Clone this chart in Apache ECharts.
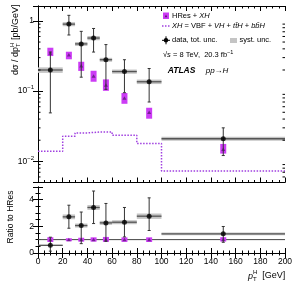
<!DOCTYPE html>
<html><head><meta charset="utf-8">
<script src="https://cdn.jsdelivr.net/npm/echarts@6/dist/echarts.min.js"></script>
<style>html,body{margin:0;padding:0;background:#fff}#c{width:294px;height:286px}</style>
</head><body><div id="c"></div>
<script>
// ---- data ----
const binLo  = [0, 20, 30, 40, 50, 60, 80, 100];
const binHi  = [20, 30, 40, 50, 60, 80, 100, 200];
const binCtr = [10, 25, 35, 45, 55, 70, 90, 150];
const dataVal = [0.20, 0.90, 0.47, 0.57, 0.28, 0.19, 0.136, 0.021];
const dataUp  = [0.36, 1.20, 0.71, 0.78, 0.46, 0.28, 0.21, 0.030];
const dataDn  = [0.049, 0.63, 0.158, 0.36, 0.106, 0.095, 0.070, 0.0121];
const systLo  = [0.182, 0.84, 0.44, 0.53, 0.262, 0.177, 0.126, 0.0196];
const systHi  = [0.218, 0.96, 0.50, 0.61, 0.298, 0.203, 0.146, 0.0224];
const hresVal = [0.35, 0.33, 0.23, 0.164, 0.122, 0.080, 0.050, 0.0149];
const hresLo  = [0.316, 0.284, 0.194, 0.136, 0.101, 0.066, 0.0405, 0.0129];
const hresHi  = [0.415, 0.364, 0.262, 0.195, 0.147, 0.094, 0.058, 0.0177];
const xhEdges = [0, 20, 30, 40, 50, 60, 80, 100, 200];
const xhVal   = [0.0139, 0.0228, 0.0254, 0.0262, 0.0262, 0.0236, 0.018, 0.0073];
const ratioVal = [0.57, 2.70, 2.05, 3.40, 2.25, 2.30, 2.75, 1.43];
const ratioUp  = [1.18, 3.57, 3.06, 4.63, 3.70, 3.40, 4.12, 1.98];
const ratioDn  = [0.14, 1.85, 0.70, 2.20, 0.87, 1.20, 1.68, 0.80];
const ratioSystLo = [0.52, 2.52, 1.90, 3.22, 2.10, 2.15, 2.55, 1.33];
const ratioSystHi = [0.62, 2.88, 2.20, 3.58, 2.40, 2.45, 2.95, 1.53];
const hresRatioVal = [1, 1, 1, 1, 1, 1, 1, 1];
const hresRatioLo  = [0.82, 0.88, 0.85, 0.85, 0.83, 0.83, 0.82, 0.86];
const hresRatioHi  = [1.18, 1.10, 1.14, 1.17, 1.20, 1.17, 1.17, 1.18];
const unityLine = [[0, 1], [200, 1]];
const logMinorTicks = [0.006,0.007,0.008,0.009,0.02,0.03,0.04,0.05,0.06,0.07,0.08,0.09,0.2,0.3,0.4,0.5,0.6,0.7,0.8,0.9];

// ---- helpers ----
const FF = '"Liberation Sans", Arial, sans-serif';
const MAG = '#cc3cf5';
const TRI = '#5c1a78';
const mctx = document.createElement('canvas').getContext('2d');
function fontStr(p){ return (p.italic?'italic ':'')+(p.bold?'bold ':'')+p.size+'px '+FF; }
function seq(x, y, parts, rotation){
  let cx = 0, prevX = 0; const ch = [];
  parts.forEach(p => {
    const f = fontStr(p); mctx.font = f;
    const w = mctx.measureText(p.t).width;
    const px = p.stack ? prevX : cx;
    ch.push({type:'text', x:px, y:(p.dy||0), style:{text:p.t, font:f, fill:p.color||'#000', verticalAlign:'middle', align:'left'}});
    if (p.stack) cx = Math.max(cx, px+w); else { prevX = px; cx = px + w; }
  });
  return {type:'group', x:x, y:y, rotation:rotation||0, children:ch};
}
function renderErr(params, api){
  const c=api.value(0), lo=api.value(1), hi=api.value(2), v=api.value(3), dn=api.value(4), up=api.value(5);
  const pUp=api.coord([c,up]), pDn=api.coord([c,dn]), pL=api.coord([lo,v]), pR=api.coord([hi,v]);
  const st={stroke:'#333', lineWidth:1};
  return {type:'group', children:[
    {type:'line', shape:{x1:pL[0],y1:pL[1],x2:pR[0],y2:pR[1]}, style:{stroke:'#555', lineWidth:1.3}},
    {type:'line', shape:{x1:pUp[0],y1:pUp[1],x2:pDn[0],y2:pDn[1]}, style:st},
    {type:'line', shape:{x1:pUp[0]-1.5,y1:pUp[1],x2:pUp[0]+1.5,y2:pUp[1]}, style:st},
    {type:'line', shape:{x1:pDn[0]-1.5,y1:pDn[1],x2:pDn[0]+1.5,y2:pDn[1]}, style:st}
  ]};
}
function renderSyst(params, api){
  const p1=api.coord([api.value(0), api.value(3)]), p2=api.coord([api.value(1), api.value(2)]);
  return {type:'rect', shape:{x:p1[0], y:p1[1], width:p2[0]-p1[0], height:p2[1]-p1[1]}, style:{fill:'#c4c4c4'}};
}
function renderBox(params, api){
  const pH=api.coord([api.value(0), api.value(2)]), pL=api.coord([api.value(0), api.value(1)]);
  return {type:'rect', shape:{x:pH[0]-3, y:pH[1], width:6, height:Math.max(pL[1]-pH[1],3)}, style:{fill:MAG}};
}
function renderMinor(params, api){
  const cs=params.coordSys; const p=api.coord([0, api.value(1)]);
  const st={stroke:'#000', lineWidth:1};
  return {type:'group', children:[
    {type:'line', shape:{x1:cs.x, y1:p[1], x2:cs.x+2.5, y2:p[1]}, style:st},
    {type:'line', shape:{x1:cs.x+cs.width-2.5, y1:p[1], x2:cs.x+cs.width, y2:p[1]}, style:st}
  ]};
}
function logFmt(v){
  const l=Math.log10(v), e=Math.round(l);
  if (Math.abs(l-e)>1e-6) return '';
  if (e===0) return '1';
  return '10{s|\u2212'+(-e)+'}';
}

const errTop = binCtr.map((c,i)=>[c, binLo[i], binHi[i], dataVal[i], dataDn[i], dataUp[i]]);
const systTop = binCtr.map((c,i)=>[binLo[i], binHi[i], systLo[i], systHi[i]]);
const boxTop = binCtr.map((c,i)=>[c, hresLo[i], hresHi[i]]);
const errBot = binCtr.map((c,i)=>[c, binLo[i], binHi[i], ratioVal[i], ratioDn[i], ratioUp[i]]);
const systBot = binCtr.map((c,i)=>[binLo[i], binHi[i], ratioSystLo[i], ratioSystHi[i]]);
const boxBot = binCtr.map((c,i)=>[c, hresRatioLo[i], hresRatioHi[i]]);
const xhData = xhEdges.map((e,i)=>[e, xhVal[Math.min(i, xhVal.length-1)]]);

const axLine = {show:true, lineStyle:{color:'#000', width:1}};
function xAx(grid, pos, labels){
  return {type:'value', gridIndex:grid, position:pos, min:0, max:200, interval:20,
    axisLine:axLine, axisTick:{show:true, inside:true, length:5, lineStyle:{color:'#000'}},
    minorTick:{show:true, splitNumber:4, length:2.5, lineStyle:{color:'#000'}},
    splitLine:{show:false}, minorSplitLine:{show:false},
    axisLabel:{show:labels, margin:4, fontSize:8.5, fontFamily:FF, color:'#000'}};
}
const yLogBase = {type:'log', gridIndex:0, min:0.005, max:1.63, logBase:10,
  axisLine:axLine, axisTick:{show:true, inside:true, length:5, lineStyle:{color:'#000'}},
  splitLine:{show:false}};
const yRatBase = {type:'value', gridIndex:1, min:0, max:4.93, interval:2,
  axisLine:axLine, axisTick:{show:true, inside:true, length:5, lineStyle:{color:'#000'}},
  minorTick:{show:true, splitNumber:4, length:2.5, lineStyle:{color:'#000'}},
  splitLine:{show:false}};

const LS = 7.5;
const option = {
  animation:false,
  grid:[
    {left:38, top:6, width:247, height:176.5, outerBoundsMode:'none', containLabel:false},
    {left:38, top:187, width:247, height:66, outerBoundsMode:'none', containLabel:false}
  ],
  xAxis:[xAx(0,'bottom',false), xAx(0,'top',false), xAx(1,'bottom',true), xAx(1,'top',false)],
  yAxis:[
    Object.assign({}, yLogBase, {position:'left', axisLabel:{show:true, margin:4, fontSize:8.5, fontFamily:FF, color:'#000', showMinLabel:false, showMaxLabel:false, formatter:logFmt, rich:{s:{fontSize:6, fontFamily:FF, color:'#000', padding:[0,0,7,0]}}}}),
    Object.assign({}, yLogBase, {position:'right', axisLabel:{show:false}}),
    Object.assign({}, yRatBase, {position:'left', axisLabel:{show:true, margin:4, fontSize:8.5, fontFamily:FF, color:'#000', showMaxLabel:false}}),
    Object.assign({}, yRatBase, {position:'right', axisLabel:{show:false}})
  ],
  series:[
    {type:'custom', xAxisIndex:0, yAxisIndex:0, renderItem:renderSyst, data:systTop, encode:{x:[0,1], y:[2,3]}, z:1},
    {type:'line', xAxisIndex:0, yAxisIndex:0, step:'end', data:xhData, symbol:'none', lineStyle:{color:'#a040e0', width:1.5, type:[1.5,1.5]}, z:2},
    {type:'custom', xAxisIndex:0, yAxisIndex:0, renderItem:renderBox, data:boxTop, encode:{x:0, y:[1,2]}, z:3},
    {type:'scatter', xAxisIndex:0, yAxisIndex:0, data:binCtr.map((c,i)=>[c, hresVal[i]]), symbol:'triangle', symbolSize:[4,3.5], itemStyle:{color:TRI}, z:4},
    {type:'custom', xAxisIndex:0, yAxisIndex:0, renderItem:renderErr, data:errTop, encode:{x:[0,1,2], y:[3,4,5]}, z:5},
    {type:'scatter', xAxisIndex:0, yAxisIndex:0, data:binCtr.map((c,i)=>[c, dataVal[i]]), symbol:'circle', symbolSize:5, itemStyle:{color:'#000'}, z:6},
    {type:'custom', xAxisIndex:0, yAxisIndex:0, renderItem:renderMinor, data:logMinorTicks.map(v=>[0,v]), encode:{x:0, y:1}, z:7, silent:true},

    {type:'line', xAxisIndex:2, yAxisIndex:2, data:unityLine, symbol:'none', lineStyle:{color:'#444', width:1}, z:2},
    {type:'custom', xAxisIndex:2, yAxisIndex:2, renderItem:renderSyst, data:systBot, encode:{x:[0,1], y:[2,3]}, z:1},
    {type:'custom', xAxisIndex:2, yAxisIndex:2, renderItem:renderBox, data:boxBot, encode:{x:0, y:[1,2]}, z:3},
    {type:'scatter', xAxisIndex:2, yAxisIndex:2, data:binCtr.map((c,i)=>[c, hresRatioVal[i]]), symbol:'triangle', symbolSize:[4,3.5], itemStyle:{color:TRI}, z:4},
    {type:'custom', xAxisIndex:2, yAxisIndex:2, renderItem:renderErr, data:errBot, encode:{x:[0,1,2], y:[3,4,5]}, z:5},
    {type:'scatter', xAxisIndex:2, yAxisIndex:2, data:binCtr.map((c,i)=>[c, ratioVal[i]]), symbol:'circle', symbolSize:5, itemStyle:{color:'#000'}, z:6}
  ],
  graphic:[
    // axis titles
    seq(15.5, 75, [
      {t:'d\u03c3 / dp', size:9},
      {t:'H', size:6, dy:-3.5},
      {t:'T', size:6, dy:3, stack:true},
      {t:' [pb/GeV]', size:9}
    ], Math.PI/2),
    {type:'text', x:10.5, y:217, rotation:Math.PI/2, style:{text:'Ratio to HRes', font:'8.5px '+FF, fill:'#000', align:'center', verticalAlign:'middle'}},
    seq(248, 276, [
      {t:'p', size:9, italic:true},
      {t:'H', size:6, dy:-4},
      {t:'T', size:6, dy:3, stack:true},
      {t:'  [GeV]', size:9}
    ]),
    // legend row 1
    {type:'rect', shape:{x:163, y:12.5, width:6, height:6.5}, style:{fill:MAG}},
    {type:'polygon', shape:{points:[[164.6,17.2],[167.4,17.2],[166,14.6]]}, style:{fill:TRI}},
    seq(172, 16, [{t:'HRes + ', size:LS}, {t:'XH', size:LS, italic:true}]),
    // legend row 2
    {type:'line', shape:{x1:162, y1:26, x2:170, y2:26}, style:{stroke:'#a040e0', lineWidth:1.5, lineDash:[1.5,1.5]}},
    seq(172, 26, [{t:'XH', size:LS, italic:true}, {t:' = VBF + ', size:LS}, {t:'VH', size:LS, italic:true}, {t:' + ', size:LS}, {t:'tt\u0304H', size:LS, italic:true}, {t:' + ', size:LS}, {t:'bb\u0304H', size:LS, italic:true}]),
    // legend row 3
    {type:'line', shape:{x1:166, y1:36.3, x2:166, y2:44.3}, style:{stroke:'#000', lineWidth:1}},
    {type:'line', shape:{x1:162, y1:40.3, x2:170, y2:40.3}, style:{stroke:'#000', lineWidth:1}},
    {type:'circle', shape:{cx:166, cy:40.3, r:2.2}, style:{fill:'#000'}},
    seq(172, 40.3, [{t:'data, tot. unc.', size:LS}]),
    {type:'rect', shape:{x:230, y:38, width:7, height:5}, style:{fill:'#c4c4c4'}},
    seq(239.5, 40.3, [{t:'syst. unc.', size:LS}]),
    // legend row 4
    seq(163, 55.3, [{t:'\u221a', size:LS}, {t:'s', size:LS, italic:true}, {t:' = 8 TeV,  20.3 fb', size:LS}, {t:'\u22121', size:5.5, dy:-2.8}]),
    // legend row 5
    seq(167.7, 71, [{t:'ATLAS', size:8.5, bold:true, italic:true}]),
    seq(205.7, 71, [{t:'pp\u2192H', size:8, italic:true}])
  ]
};
const chart = echarts.init(document.getElementById('c'), null, {renderer:'canvas'});
chart.setOption(option);
</script>
</body></html>
